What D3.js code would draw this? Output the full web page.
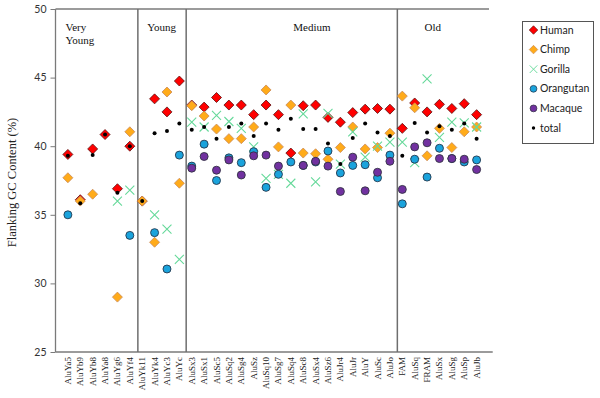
<!DOCTYPE html>
<html>
<head>
<meta charset="utf-8">
<script src="https://cdn.jsdelivr.net/npm/d3@7"></script>
<style>
  html, body { margin: 0; padding: 0; background: #fff; }
  svg { display: block; }
</style>
</head>
<body>
<div id="chart"></div>
<script>
// subfamilies along the x axis
const categories = ["AluYa5","AluYb9","AluYb8","AluYa8","AluYg6","AluYf4",
  "AluYk11","AluYk4","AluYc3","AluYc",
  "AluSx3","AluSx1","AluSc5","AluSq2","AluSg4","AluSz","AluSq10","AluSg7","AluSq4","AluSc8","AluSx4","AluSz6","AluJr4","AluJr","AluY","AluSc","AluJo",
  "FAM","AluSq","FRAM","AluSx","AluSg","AluSp","AluJb"];

const human = [39.4,36.1,39.8,40.85,36.9,40.0, 36.0,43.45,42.5,44.75,
  43.0,42.85,43.55,43.0,43.0,42.3,43.0,42.3,39.5,42.95,43.0,42.1,41.75,42.45,42.7,42.75,42.7,
  41.3,43.15,42.5,43.05,42.75,43.1,42.3];
const chimp = [37.7,36.0,36.5,null,29.0,41.05, 36.0,33.0,43.95,37.3,
  42.95,42.2,41.25,40.55,40.55,41.4,44.1,39.95,43.0,39.5,39.45,39.05,39.9,41.4,39.8,39.9,40.95,
  43.65,42.8,39.3,41.3,39.9,41.05,41.4];
const gorilla = [null,null,null,null,36.0,36.8, null,35.0,33.95,31.75,
  41.75,41.4,42.25,41.8,41.3,39.95,37.65,37.95,37.3,42.35,37.4,42.4,38.7,41.05,39.2,40.0,40.3,
  40.3,38.8,44.9,40.65,41.75,41.7,41.4];
const orangutan = [35.0,null,null,null,null,33.5, null,33.7,31.05,39.35,
  38.55,40.15,37.5,39.15,38.8,39.6,37.0,37.95,38.85,38.6,38.85,39.65,38.05,38.6,38.65,37.7,39.35,
  35.8,39.05,37.75,39.85,39.1,38.85,39.0];
const macaque = [null,null,null,null,null,null, null,null,null,null,
  38.4,39.25,38.25,39.0,37.9,39.3,39.35,38.55,null,38.6,38.9,38.55,36.7,39.2,36.75,38.1,38.9,
  36.85,39.95,40.25,39.1,39.1,39.05,38.3];
const total = [39.3,35.85,39.35,40.85,36.6,40.0, 36.0,40.95,41.1,41.65,
  41.2,41.4,40.55,41.4,41.65,40.75,41.65,41.2,42.0,41.25,41.25,40.2,38.7,40.6,41.65,41.0,40.75,
  39.3,41.7,41.0,41.45,41.2,41.65,40.55];

const yTicks = [25, 30, 35, 40, 45, 50];
const groupNames = [["Very", "Young"], ["Young"], ["Medium"], ["Old"]];
const groupLabelX = [0.8, 7.4, 19.2, 29.8];   // in category units
const dividers = [6.65, 10.55, 27.6];

const series = [
  { name: "Human", values: human, shape: "diamond", fill: "#ff0000", stroke: "#5a1010" },
  { name: "Chimp", values: chimp, shape: "diamond", fill: "#ffab1a", stroke: "#c98a5a" },
  { name: "Gorilla", values: gorilla, shape: "cross", fill: "none", stroke: "#66d99a" },
  { name: "Orangutan", values: orangutan, shape: "circle", fill: "#1aa3dc", stroke: "#24394f" },
  { name: "Macaque", values: macaque, shape: "circle", fill: "#7131a0", stroke: "#333344" },
  { name: "total", values: total, shape: "dot", fill: "#000", stroke: "none" }
];

const W = 600, H = 398;
const svg = d3.select("#chart").append("svg")
  .attr("width", W).attr("height", H);

const x = d3.scaleLinear().domain([0, 35]).range([55.5, 489]);
const y = d3.scaleLinear().domain([25, 50]).range([352, 9]);

const lineCol = "#7a7a7a";

// frame: left, top, bottom
svg.append("line").attr("x1", x(0)).attr("x2", x(0)).attr("y1", y(50)).attr("y2", y(25))
  .attr("stroke", lineCol).attr("stroke-width", 1.3);
svg.append("line").attr("x1", x(0)).attr("x2", x(35)).attr("y1", y(50)).attr("y2", y(50))
  .attr("stroke", lineCol).attr("stroke-width", 1.3);
svg.append("line").attr("x1", x(0)).attr("x2", x(35.3)).attr("y1", y(25)).attr("y2", y(25))
  .attr("stroke", lineCol).attr("stroke-width", 1.3);

// y axis
const yAxis = svg.append("g")
  .attr("transform", `translate(${x(0)},0)`)
  .call(d3.axisLeft(y).tickValues(yTicks).tickSize(5).tickPadding(4));
yAxis.select(".domain").remove();
yAxis.selectAll("line").attr("stroke", lineCol);
yAxis.selectAll("text")
  .attr("font-family", "Lato, 'Open Sans', sans-serif")
  .attr("font-size", 10.5)
  .attr("fill", "#333");

svg.append("text")
  .attr("transform", `translate(16,${(y(25) + y(50)) / 2 + 2}) rotate(-90)`)
  .attr("text-anchor", "middle")
  .attr("font-family", "'Liberation Serif', 'Times New Roman', serif")
  .attr("font-size", 12.5)
  .attr("fill", "#222")
  .text("Flanking GC Content (%)");

// x labels, rotated
svg.append("g").selectAll("text")
  .data(categories)
  .join("text")
  .attr("transform", (d, i) => `translate(${x(i + 1) + 3},${y(25) + 5}) rotate(-90)`)
  .attr("text-anchor", "end")
  .attr("font-family", "'Liberation Serif', 'Times New Roman', serif")
  .attr("font-size", 9)
  .attr("fill", "#222")
  .text(d => d);

// group dividers
svg.append("g").selectAll("line")
  .data(dividers)
  .join("line")
  .attr("x1", d => x(d)).attr("x2", d => x(d))
  .attr("y1", y(50)).attr("y2", y(25))
  .attr("stroke", "#6e6e6e").attr("stroke-width", 1.5);

// group labels
groupNames.forEach((lines, gi) => {
  const t = svg.append("text")
    .attr("x", x(groupLabelX[gi]))
    .attr("y", 31)
    .attr("font-family", "'Liberation Serif', 'Times New Roman', serif")
    .attr("font-size", 11)
    .attr("fill", "#111");
  lines.forEach((s, k) => {
    t.append("tspan").attr("x", x(groupLabelX[gi])).attr("dy", k === 0 ? 0 : 12.5).text(s);
  });
});

const drawMarker = (sel, s) => {
  if (s.shape === "diamond") {
    sel.append("path").attr("d", "M0,-5L5,0L0,5L-5,0Z")
      .attr("fill", s.fill).attr("stroke", s.stroke).attr("stroke-width", 0.8);
  } else if (s.shape === "cross") {
    sel.append("path").attr("d", "M-4.5,-4.5L4.5,4.5M-4.5,4.5L4.5,-4.5")
      .attr("fill", "none").attr("stroke", s.stroke).attr("stroke-width", 1.1);
  } else if (s.shape === "circle") {
    sel.append("circle").attr("r", 4)
      .attr("fill", s.fill).attr("stroke", s.stroke).attr("stroke-width", 0.9);
  } else {
    sel.append("circle").attr("r", 2).attr("fill", s.fill);
  }
};

// points
series.forEach(s => {
  const pts = s.values.map((v, i) => ({ v, i })).filter(d => d.v !== null);
  const g = svg.append("g");
  pts.forEach(d => {
    const m = g.append("g").attr("transform", `translate(${x(d.i + 1)},${y(d.v)})`);
    drawMarker(m, s);
  });
});

// legend
const lg = svg.append("g");
lg.append("rect")
  .attr("x", 522.5).attr("y", 21.5).attr("width", 71).attr("height", 122)
  .attr("fill", "#fff").attr("stroke", "#555").attr("stroke-width", 1);
series.forEach((s, k) => {
  const cy = 30 + k * 19.6;
  const m = lg.append("g").attr("transform", `translate(533.5,${cy}) scale(0.85)`);
  drawMarker(m, s);
  lg.append("text")
    .attr("x", 540).attr("y", cy + 3.6)
    .attr("font-family", "Lato, 'Open Sans', sans-serif")
    .attr("font-size", 10.5)
    .attr("fill", "#222")
    .text(s.name);
});
</script>
</body>
</html>
